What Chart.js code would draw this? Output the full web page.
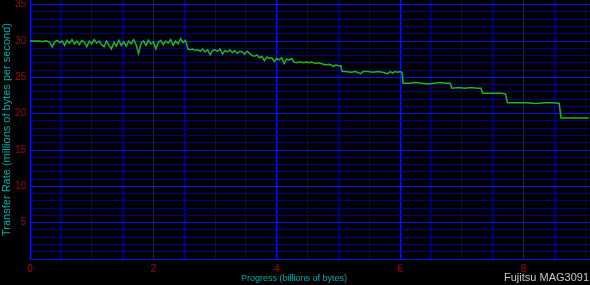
<!DOCTYPE html>
<html>
<head>
<meta charset="utf-8">
<script src="https://cdn.jsdelivr.net/npm/chart.js@4/dist/chart.umd.min.js"></script>
<style>
html,body{margin:0;padding:0;background:#000;}
#wrap{position:relative;width:590px;height:285px;background:#000;}
#brand{position:absolute;right:1px;top:271px;font:11px "Liberation Sans",Arial,sans-serif;color:#c8c8c8;white-space:nowrap;}
#xtitle{position:absolute;left:0;width:588px;top:273px;text-align:center;font:9px "Liberation Sans",Arial,sans-serif;color:#00a8a8;white-space:nowrap;}
</style>
</head>
<body>
<div id="wrap"><canvas id="c" width="590" height="285"></canvas><div id="xtitle">Progress (billions of bytes)</div><div id="brand">Fujitsu MAG3091</div></div>
<script>
// Progress in billions of bytes
const progress = [
0.00,0.04,0.08,0.12,0.16,0.20,0.24,0.28,0.32,0.36,0.40,0.44,0.48,0.52,0.56,0.60,0.64,0.68,0.72,0.76,
0.80,0.84,0.88,0.92,0.96,1.00,1.04,1.08,1.12,1.16,1.20,1.24,1.28,1.32,1.36,1.40,1.44,1.48,1.52,1.56,
1.60,1.64,1.68,1.72,1.76,1.80,1.84,1.88,1.92,1.96,2.00,2.04,2.08,2.12,2.16,2.20,2.24,2.28,2.32,2.36,
2.40,2.44,2.48,2.52,
2.56,2.60,2.64,2.68,2.72,2.76,2.80,2.84,2.88,2.92,2.96,3.00,3.04,3.08,3.12,3.16,3.20,3.24,3.28,3.32,
3.36,3.40,3.44,3.48,3.52,3.56,3.60,3.64,3.68,3.72,3.76,3.80,3.84,3.88,3.92,3.96,4.00,4.04,4.08,4.12,
4.16,4.20,4.24,
4.28,4.32,4.36,4.40,4.44,4.48,4.52,4.56,4.60,4.64,4.68,4.72,4.76,4.80,4.84,4.88,4.92,4.96,5.00,5.04,
5.06,5.12,5.20,5.28,5.36,5.40,5.48,5.56,5.64,5.72,5.80,5.84,5.88,5.92,5.96,6.00,6.03,
6.05,6.15,6.25,6.35,6.45,6.55,6.65,6.75,6.81,
6.84,6.95,7.05,7.15,7.25,7.31,
7.34,7.45,7.55,7.65,7.71,
7.74,7.90,8.05,8.20,8.35,8.50,8.58,
8.61,8.75,8.90,9.06
];
// Transfer rate in millions of bytes per second
const rate = [
30.0,30.0,30.0,30.0,30.0,29.9,30.0,30.0,29.8,29.2,29.9,30.1,29.8,30.0,29.4,30.1,29.7,30.2,29.6,30.0,
29.5,30.1,29.8,29.2,30.0,29.6,30.2,29.7,30.0,29.5,29.2,30.0,29.4,28.9,29.8,29.3,30.1,29.4,29.9,29.3,
30.0,29.6,30.2,29.5,28.3,29.7,30.0,29.4,30.1,29.6,29.9,28.9,29.8,30.1,29.5,30.0,29.7,30.2,29.4,30.0,
29.6,30.3,29.8,30.1,
28.9,28.8,28.9,28.7,28.8,28.6,28.9,28.5,28.8,28.1,28.7,28.8,28.6,28.9,28.2,28.7,28.5,28.8,28.4,28.7,
28.3,28.6,28.5,28.2,28.6,28.3,28.0,27.9,28.1,27.7,27.9,27.3,27.8,27.6,27.7,27.2,27.6,27.4,27.7,26.9,
27.5,27.4,27.6,
27.1,27.0,27.1,27.1,27.0,27.1,27.0,27.1,27.0,26.9,27.0,26.9,26.8,26.7,26.8,26.7,26.5,26.7,26.6,26.6,
25.8,25.8,25.7,25.8,25.5,25.8,25.8,25.7,25.8,25.7,25.5,25.8,25.6,25.8,25.7,25.8,25.7,
24.2,24.2,24.3,24.2,24.1,24.2,24.3,24.2,24.2,
23.5,23.6,23.5,23.6,23.5,23.5,
22.8,22.8,22.8,22.8,22.7,
21.5,21.5,21.5,21.4,21.5,21.5,21.4,
19.4,19.4,19.4,19.4
];
const xTickLabels = [0, 2, 4, 6, 8];
const yTickLabels = [5, 10, 15, 20, 25, 30, 35];
// grid line positions (ticks) along each axis
const xGridTicks = [0,0.5,1,1.5,2,2.5,3,3.5,4,4.5,5,5.5,6,6.5,7,7.5,8,8.5,9];
const yGridTicks = [0,1,2,3,4,5,6,7,8,9,10,11,12,13,14,15,16,17,18,19,20,21,22,23,24,25,26,27,28,29,30,31,32,33,34,35];

const points = progress.map((x, i) => ({x: x, y: rate[i]}));
const near = (v, arr) => arr.some(a => Math.abs(a - v) < 1e-6);
const FONT = '"Liberation Sans", Arial, sans-serif';
const MAJOR = '#0a14f0', MINOR = '#00008c';

new Chart(document.getElementById('c'), {
  type: 'line',
  data: {
    datasets: [{
      data: points,
      borderColor: '#1fb51f',
      borderWidth: 1.5,
      pointRadius: 0,
      tension: 0,
      fill: false
    }]
  },
  options: {
    responsive: false,
    animation: false,
    layout: {padding: 0},
    plugins: {legend: {display: false}, tooltip: {enabled: false}},
    scales: {
      x: {
        type: 'linear',
        min: 0,
        max: 9.08,
        afterBuildTicks: s => { s.ticks = xGridTicks.map(v => ({value: v})); },
        afterFit: s => { s.height = 26; s.paddingLeft = 0; s.paddingRight = 0; },
        grid: {
          drawTicks: false,
          color: c => (c.tick && near(c.tick.value, [0,2,4,6,8])) ? MAJOR : MINOR,
          lineWidth: 1
        },
        border: {color: MAJOR, width: 1},
        ticks: {
          padding: 4,
          autoSkip: false,
          maxRotation: 0,
          color: '#a80000',
          font: {family: FONT, size: 10},
          callback: v => near(v, xTickLabels) ? String(Math.round(v)) : ''
        },
        title: {display: false}
      },
      y: {
        type: 'linear',
        min: 0,
        max: 35.65,
        afterBuildTicks: s => { s.ticks = yGridTicks.map(v => ({value: v})); },
        afterFit: s => { s.width = 30; s.paddingTop = 0; s.paddingBottom = 0; },
        grid: {
          drawTicks: false,
          color: c => (c.tick && near(c.tick.value, [0,5,10,15,20,25,30,35])) ? MAJOR : MINOR,
          lineWidth: 1
        },
        border: {color: MAJOR, width: 1},
        ticks: {
          padding: 4,
          autoSkip: false,
          color: '#a80000',
          font: {family: FONT, size: 10},
          callback: v => near(v, yTickLabels) ? String(Math.round(v)) : ''
        },
        title: {
          display: true,
          text: 'Transfer Rate (millions of bytes per second)',
          color: '#00a8a8',
          font: {family: FONT, size: 11},
          padding: {top: 0, bottom: 0}
        }
      }
    }
  }
});
</script>
</body>
</html>
